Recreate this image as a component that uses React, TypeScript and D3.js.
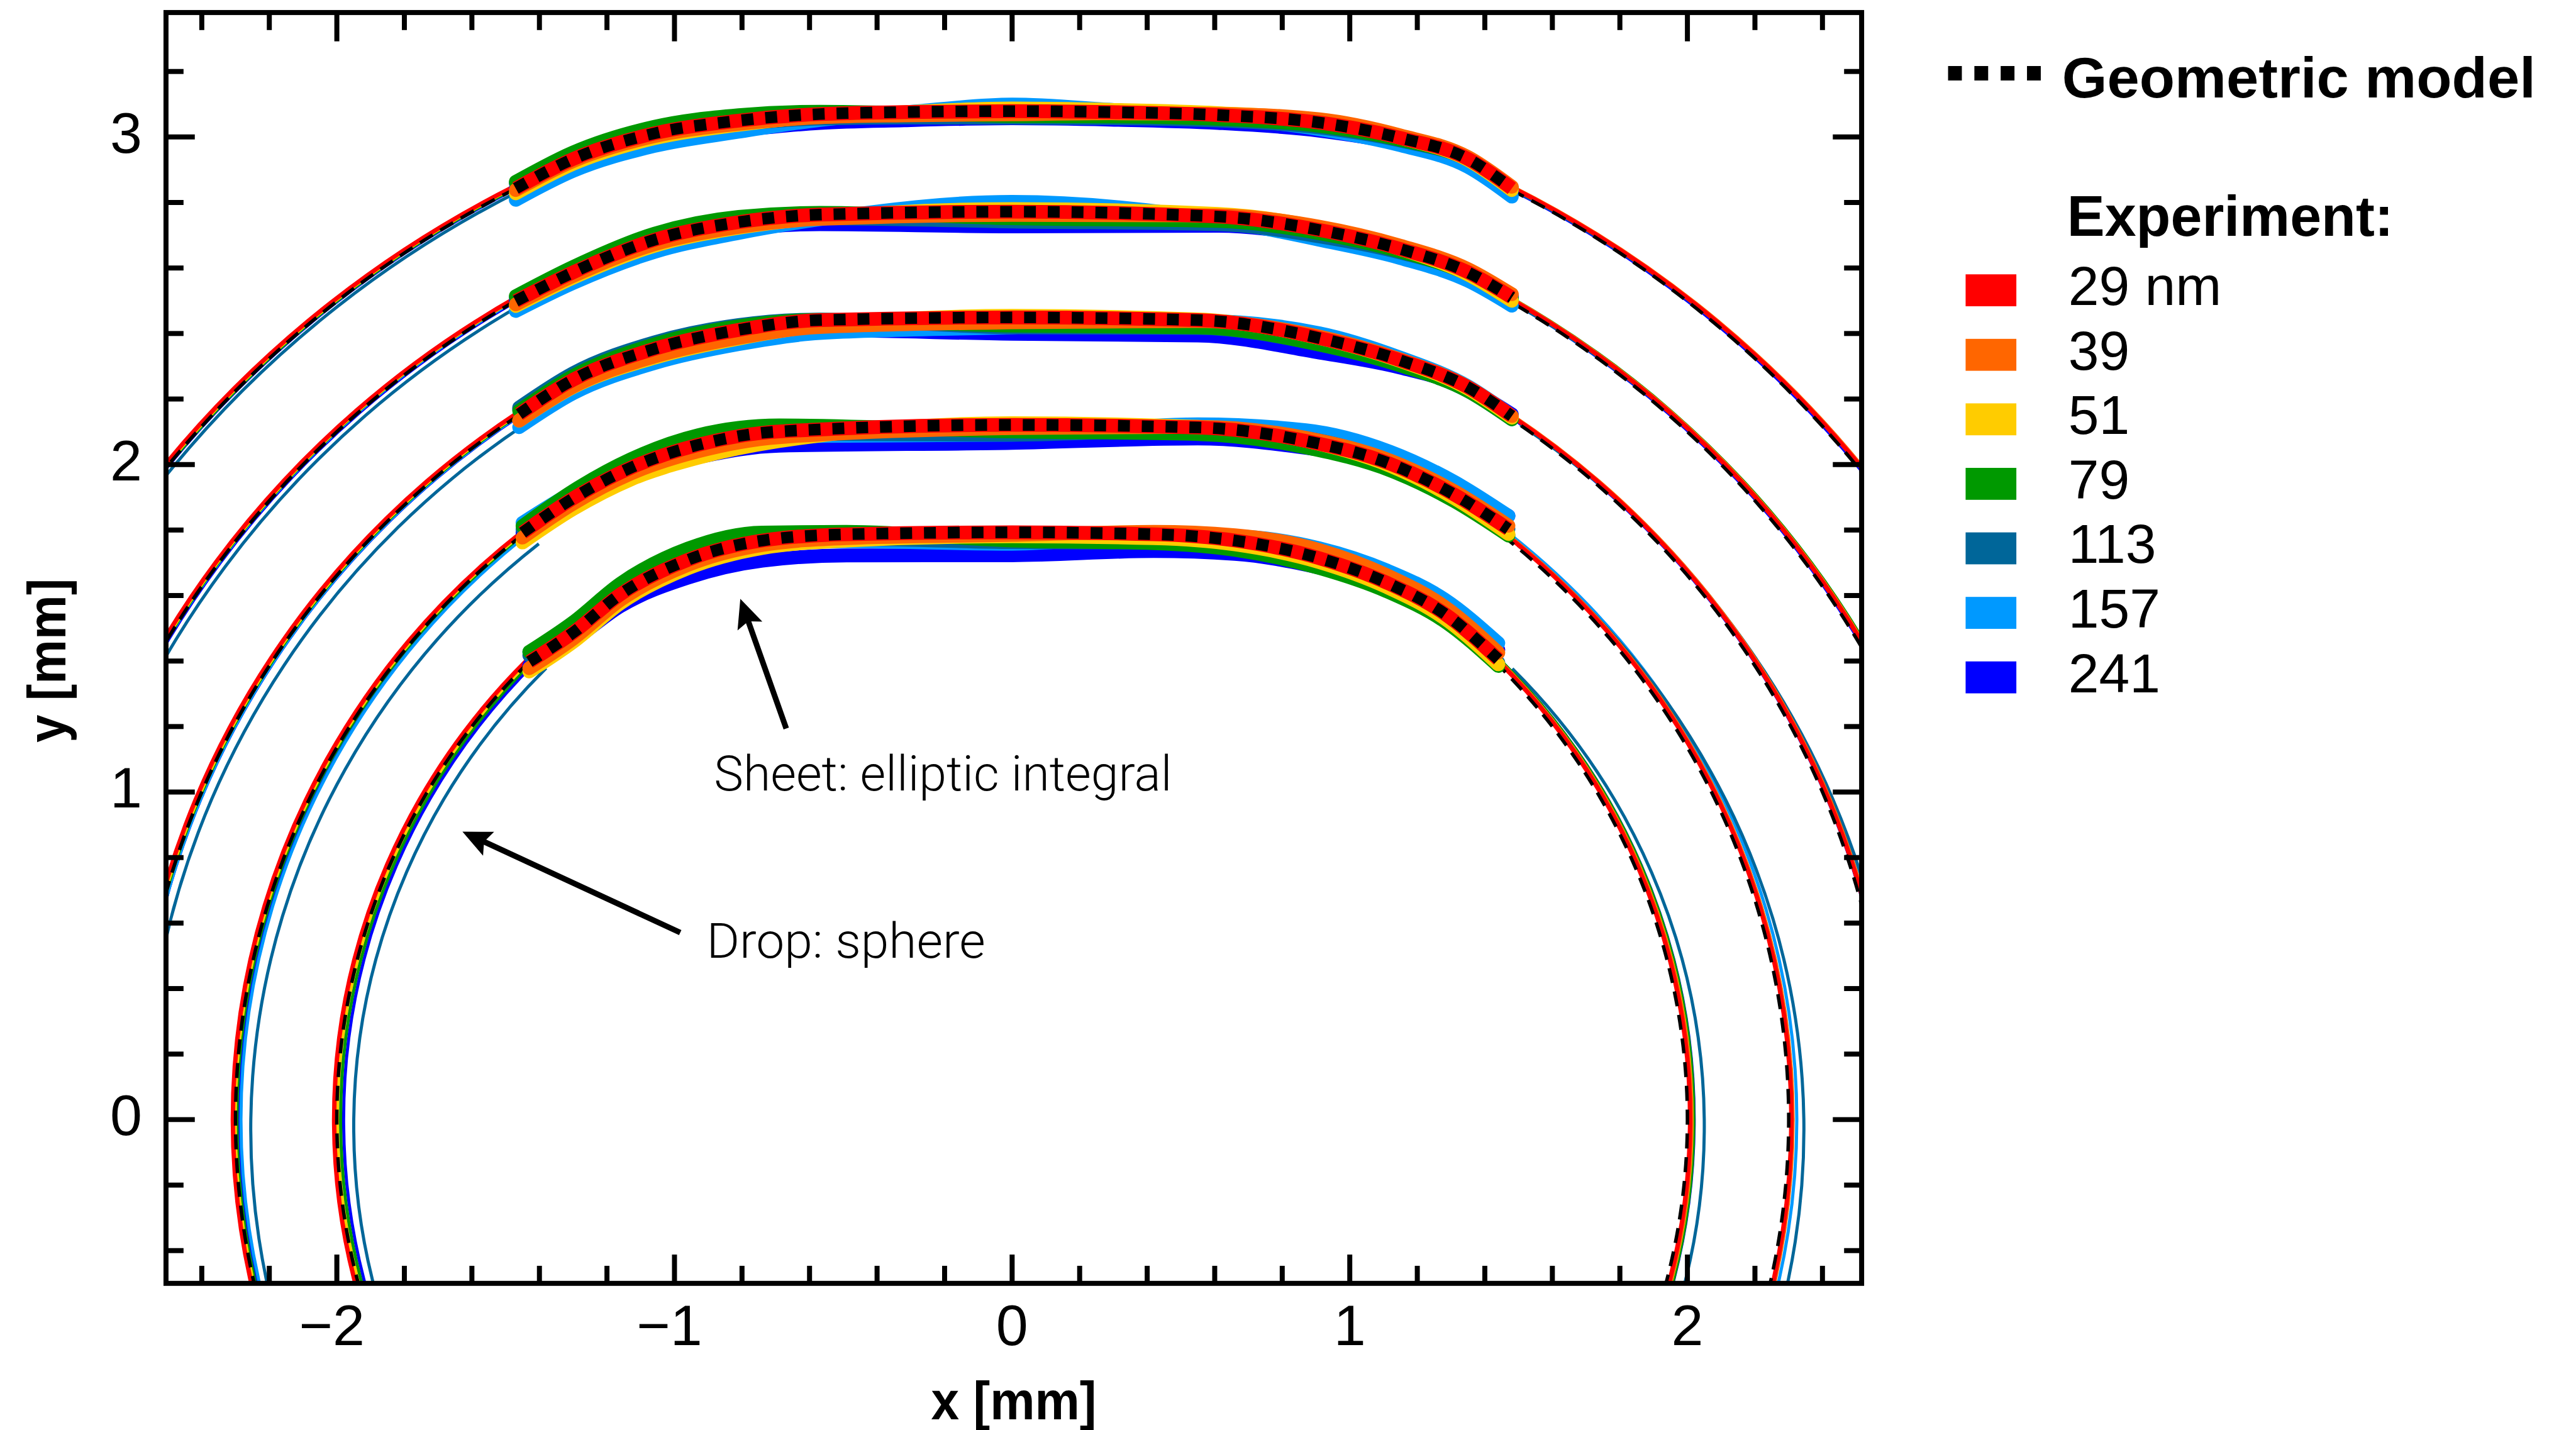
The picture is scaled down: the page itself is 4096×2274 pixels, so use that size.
import * as d3 from 'd3';

const SCALE = 0.996;
const REF_W = 4111;
const REF_H = 2282;

// experiment series (sheet thickness) and colours
const seriesLabels = ['29 nm', '39', '51', '79', '113', '157', '241'];
const seriesColors = ['#ff0000', '#ff6600', '#ffcc00', '#009900', '#006699', '#0099ff', '#0000ff'];

// drop sphere radius (mm), centred at the origin
const dropRadius = [2.0, 2.3, 2.6, 2.9, 3.2];

// geometric model of the sheet cap (mm)
const sheetX = [
  [-1.43, -1.30, -1.16, -0.96, -0.74, -0.49, 0, 0.42, 0.66, 0.91, 1.11, 1.28, 1.44],
  [-1.45, -1.30, -1.13, -0.93, -0.69, 0, 0.55, 0.87, 1.12, 1.31, 1.47],
  [-1.46, -1.30, -1.06, -0.81, -0.57, 0, 0.55, 0.91, 1.15, 1.35, 1.48],
  [-1.47, -1.30, -1.06, -0.81, -0.57, 0, 0.61, 0.91, 1.15, 1.35, 1.48],
  [-1.47, -1.30, -1.06, -0.81, -0.57, -0.32, 0, 0.29, 0.61, 0.91, 1.15, 1.35, 1.48],
];
const sheetY = [
  [1.398, 1.487, 1.604, 1.709, 1.768, 1.787, 1.793, 1.787, 1.768, 1.714, 1.639, 1.545, 1.405],
  [1.792, 1.897, 1.99, 2.06, 2.101, 2.121, 2.113, 2.072, 2.002, 1.908, 1.803],
  [2.154, 2.259, 2.353, 2.411, 2.441, 2.449, 2.441, 2.386, 2.318, 2.236, 2.148],
  [2.499, 2.587, 2.686, 2.74, 2.763, 2.772, 2.757, 2.716, 2.658, 2.587, 2.51],
  [2.843, 2.933, 3.011, 3.05, 3.07, 3.076, 3.079, 3.076, 3.067, 3.044, 2.997, 2.933, 2.843],
];

// vertical shift of each measured sheet from the model, at these x (mm)
const offsetX = [-1.45, -0.9, 0, 0.9, 1.45];
// sheetOffset[drop][series]
const sheetOffset = [
  [
    [0, 0, 0, 0, 0],
    [-0.02, -0.015, -0.008, 0.025, 0.02],
    [-0.03, -0.025, -0.012, -0.012, -0.015],
    [0.03, 0.035, -0.025, -0.03, -0.02],
    [0.02, 0.0, -0.03, -0.02, -0.01],
    [0.03, -0.01, -0.035, 0.03, 0.05],
    [-0.01, -0.06, -0.07, -0.03, 0.03],
  ],
  [
    [0, 0, 0, 0, 0],
    [-0.015, -0.02, -0.01, 0.01, 0.01],
    [-0.03, -0.04, 0.005, 0.0, -0.015],
    [0.02, 0.03, -0.02, -0.02, -0.02],
    [0.01, 0.0, -0.03, 0.01, 0.0],
    [0.03, -0.01, -0.03, 0.035, 0.04],
    [0.0, -0.04, -0.055, -0.02, 0.04],
  ],
  [
    [0, 0, 0, 0, 0],
    [-0.02, -0.025, -0.015, 0.005, 0.0],
    [-0.02, -0.03, 0.005, 0.0, -0.005],
    [0.01, 0.015, -0.025, -0.02, -0.01],
    [0.02, 0.02, -0.03, -0.02, -0.01],
    [-0.04, -0.045, -0.03, 0.015, 0.0],
    [0.015, -0.02, -0.05, -0.045, 0.005],
  ],
  [
    [0, 0, 0, 0, 0],
    [-0.01, -0.015, -0.01, 0.01, 0.01],
    [-0.015, -0.02, 0.008, 0.008, -0.01],
    [0.015, 0.02, -0.02, -0.01, -0.005],
    [0.01, 0.0, -0.03, -0.02, 0.0],
    [-0.03, -0.04, 0.03, -0.03, -0.025],
    [0.0, -0.02, -0.045, -0.02, 0.005],
  ],
  [
    [0, 0, 0, 0, 0],
    [-0.005, -0.01, -0.01, 0.01, 0.005],
    [-0.015, -0.015, 0.008, 0.005, -0.005],
    [0.02, 0.02, -0.015, -0.01, 0.0],
    [0.015, -0.01, -0.02, -0.015, 0.0],
    [-0.035, -0.04, 0.02, -0.02, -0.025],
    [0.0, -0.03, -0.022, -0.025, -0.01],
  ],
];

// drop outline centre shift and radius change of each series (mm), [series][drop]
const arcDx = [
  [0, 0, 0, 0, 0],
  [0.003, 0.003, 0.003, 0.003, 0.003],
  [0.008, 0.005, 0.004, 0.003, 0.003],
  [0.015, 0.008, 0.005, 0.008, 0.005],
  [0.05, 0.045, 0.03, 0.02, 0.015],
  [0.01, 0.02, 0.01, 0.005, 0.003],
  [0.02, 0.012, 0.006, 0.004, 0.002],
];
const arcDy = [
  [0, 0, 0, 0, 0],
  [0, 0, 0, 0, 0],
  [0, 0, 0, 0, 0],
  [0, 0, 0, 0, 0],
  [-0.02, -0.03, -0.02, -0.01, -0.005],
  [0, 0, 0, 0, 0],
  [0, 0, 0, 0, 0],
];
const arcDr = [
  [0.008, 0.008, 0.008, 0.008, 0.008],
  [0.01, 0.01, 0.01, 0.01, 0.01],
  [0.006, 0.006, 0.006, 0.006, 0.006],
  [0.004, 0.004, 0.004, 0.008, 0.004],
  [0, 0, 0, 0, 0],
  [0.004, 0.004, 0.004, 0.004, 0.004],
  [0, 0, 0, 0, 0],
];

// annotations (mm)
const notes = [
  { text: 'Sheet: elliptic integral', at: [-0.883, 1.005], tip: [-0.805, 1.59], tail: [-0.669, 1.194], len: 731 },
  { text: 'Drop: sphere', at: [-0.905, 0.494], tip: [-1.628, 0.879], tail: [-0.983, 0.571], len: 445 },
];

const fmt = (v: number) => (v < 0 ? '\u2212' + Math.abs(v) : String(v));

export default function App() {
  const x = d3.scaleLinear().domain([-2.506, 2.516]).range([265, 2972]);
  const y = d3.scaleLinear().domain([-0.5, 3.38]).range([2049, 20]);
  const [left, right] = x.range();
  const [bottom, top] = y.range();
  const kx = x(1) - x(0);
  const ky = y(0) - y(1);

  const arcPath = (k: number, s: number, model = false) => {
    const r = dropRadius[k] + (model ? 0 : arcDr[s][k]);
    const cx = model ? 0 : arcDx[s][k];
    const cy = model ? 0 : arcDy[s][k];
    const xs = sheetX[k];
    const ys = sheetY[k];
    const aL = Math.atan2(ys[0], xs[0]);
    const aR = Math.atan2(ys[ys.length - 1], xs[xs.length - 1]);
    const p0 = [x(cx + r * Math.cos(aL)), y(cy + r * Math.sin(aL))];
    const p1 = [x(cx + r * Math.cos(aR)), y(cy + r * Math.sin(aR))];
    return `M${p0[0]},${p0[1]}A${r * kx},${r * ky} 0 1 0 ${p1[0]},${p1[1]}`;
  };

  const sheetPath = (k: number, s: number | null) => {
    const off = d3.scaleLinear().domain(offsetX).range(s === null ? [0, 0, 0, 0, 0] : sheetOffset[k][s]).clamp(true);
    const xs = sheetX[k];
    const ys = sheetY[k];
    const line = d3
      .line<number>()
      .x((_, i) => x(xs[i]))
      .y((_, i) => y(ys[i] + off(xs[i])))
      .curve(d3.curveMonotoneX);
    return line(xs) || '';
  };

  const order = d3.range(seriesColors.length).reverse();

  const xMajor = x.ticks(5);
  const xMinor = x.ticks(25).filter((t) => !xMajor.some((m) => Math.abs(m - t) < 1e-6));
  const yMajor = y.ticks(5);
  const yMinor = y.ticks(20).filter((t) => !yMajor.some((m) => Math.abs(m - t) < 1e-6));
  const MAJ = 46;
  const MIN = 28;

  const font = '"Liberation Sans", Arial, Helvetica, sans-serif';

  const arrow = (n: typeof notes[number], i: number) => {
    const tx = x(n.tip[0]);
    const ty = y(n.tip[1]);
    const sx = x(n.tail[0]);
    const sy = y(n.tail[1]);
    const len = Math.hypot(tx - sx, ty - sy);
    const ux = (tx - sx) / len;
    const uy = (ty - sy) / len;
    const hl = 46;
    const hw = 21;
    const bx = tx - ux * hl;
    const by = ty - uy * hl;
    const pts = [
      [tx, ty],
      [bx - uy * hw, by + ux * hw],
      [tx - ux * (hl - 8), ty - uy * (hl - 8)],
      [bx + uy * hw, by - ux * hw],
    ];
    return (
      <g key={'ar' + i}>
        <line x1={sx} y1={sy} x2={tx - ux * (hl - 10)} y2={ty - uy * (hl - 10)} stroke="#000" strokeWidth={9} />
        <polygon points={pts.map((p) => p.join(',')).join(' ')} fill="#000" />
        <text
          x={x(n.at[0])}
          y={y(n.at[1])}
          fontFamily='Roboto, "Liberation Sans", sans-serif'
          fontWeight={300}
          fontSize={78}
          textLength={n.len}
          lengthAdjust="spacingAndGlyphs"
        >
          {n.text}
        </text>
      </g>
    );
  };

  return (
    <svg width={4096} height={2274} style={{ position: 'absolute', left: 0, top: 0, background: '#fff' }}>
      <g transform={`scale(${SCALE})`}>
        <defs>
          <clipPath id="plotArea">
            <rect x={left} y={top} width={right - left} height={bottom - top} />
          </clipPath>
        </defs>
        <rect width={REF_W} height={REF_H} fill="#fff" />

        <g clipPath="url(#plotArea)">
          {/* drop outlines */}
          {dropRadius.map((_, k) =>
            order.map((s) => (
              <path
                key={`arc${k}-${s}`}
                d={arcPath(k, s)}
                fill="none"
                stroke={seriesColors[s]}
                strokeWidth={s === 0 ? 7 : 5}
              />
            ))
          )}
          {dropRadius.map((_, k) => (
            <path
              key={`arcm${k}`}
              d={arcPath(k, 0, true)}
              fill="none"
              stroke="#000"
              strokeWidth={5.5}
              strokeDasharray="24 14"
            />
          ))}

          {/* sheet caps */}
          {dropRadius.map((_, k) =>
            order.map((s) => (
              <path
                key={`sh${k}-${s}`}
                d={sheetPath(k, s)}
                fill="none"
                stroke={seriesColors[s]}
                strokeWidth={22}
                strokeLinecap={s === 0 ? 'butt' : 'round'}
                strokeLinejoin="round"
              />
            ))
          )}
          {dropRadius.map((_, k) => (
            <path
              key={`shm${k}`}
              d={sheetPath(k, null)}
              fill="none"
              stroke="#000"
              strokeWidth={18.5}
              strokeDasharray="19 19"
            />
          ))}
        </g>

        {/* annotations */}
        {notes.map(arrow)}

        {/* frame and ticks */}
        <g stroke="#000" strokeWidth={8}>
          {xMajor.map((t) => (
            <g key={'xM' + t}>
              <line x1={x(t)} x2={x(t)} y1={bottom} y2={bottom - MAJ} />
              <line x1={x(t)} x2={x(t)} y1={top} y2={top + MAJ} />
            </g>
          ))}
          {xMinor.map((t) => (
            <g key={'xm' + t}>
              <line x1={x(t)} x2={x(t)} y1={bottom} y2={bottom - MIN} />
              <line x1={x(t)} x2={x(t)} y1={top} y2={top + MIN} />
            </g>
          ))}
          {yMajor.map((t) => (
            <g key={'yM' + t}>
              <line x1={left} x2={left + MAJ} y1={y(t)} y2={y(t)} />
              <line x1={right} x2={right - MAJ} y1={y(t)} y2={y(t)} />
            </g>
          ))}
          {yMinor.map((t) => (
            <g key={'ym' + t}>
              <line x1={left} x2={left + MIN} y1={y(t)} y2={y(t)} />
              <line x1={right} x2={right - MIN} y1={y(t)} y2={y(t)} />
            </g>
          ))}
          <rect x={left} y={top} width={right - left} height={bottom - top} fill="none" strokeLinejoin="miter" />
        </g>

        {/* tick labels */}
        <g fontFamily={font} fontSize={92} fill="#000">
          {xMajor.map((t) => (
            <text key={'xl' + t} x={x(t) - (t < 0 ? 8 : 0)} y={2148} textAnchor="middle">
              {fmt(t)}
            </text>
          ))}
          {yMajor.map((t) => (
            <text key={'yl' + t} x={227} y={y(t) + 25} textAnchor="end">
              {fmt(t)}
            </text>
          ))}
        </g>

        {/* axis titles */}
        <text
          x={(left + right) / 2}
          y={2266}
          textAnchor="middle"
          fontFamily={font}
          fontWeight={700}
          fontSize={86}
          textLength={264}
          lengthAdjust="spacingAndGlyphs"
        >
          x [mm]
        </text>
        <text
          transform={`translate(104, ${(top + bottom) / 2 + 20}) rotate(-90)`}
          textAnchor="middle"
          fontFamily={font}
          fontWeight={700}
          fontSize={86}
          textLength={262}
          lengthAdjust="spacingAndGlyphs"
        >
          y [mm]
        </text>

        {/* legend */}
        <g fontFamily={font} fill="#000">
          <line x1={3110} x2={3258} y1={117} y2={117} stroke="#000" strokeWidth={23} strokeDasharray="22 20" />
          <text x={3292} y={156} fontSize={92} fontWeight={700} textLength={756} lengthAdjust="spacingAndGlyphs">
            Geometric model
          </text>
          <text x={3300} y={377} fontSize={92} fontWeight={700} textLength={521} lengthAdjust="spacingAndGlyphs">
            Experiment:
          </text>
          {seriesLabels.map((lab, i) => (
            <g key={lab}>
              <rect x={3138} y={438 + i * 103} width={81} height={51} fill={seriesColors[i]} />
              <text x={3302} y={487 + i * 103} fontSize={88}>
                {lab}
              </text>
            </g>
          ))}
        </g>
      </g>
    </svg>
  );
}
